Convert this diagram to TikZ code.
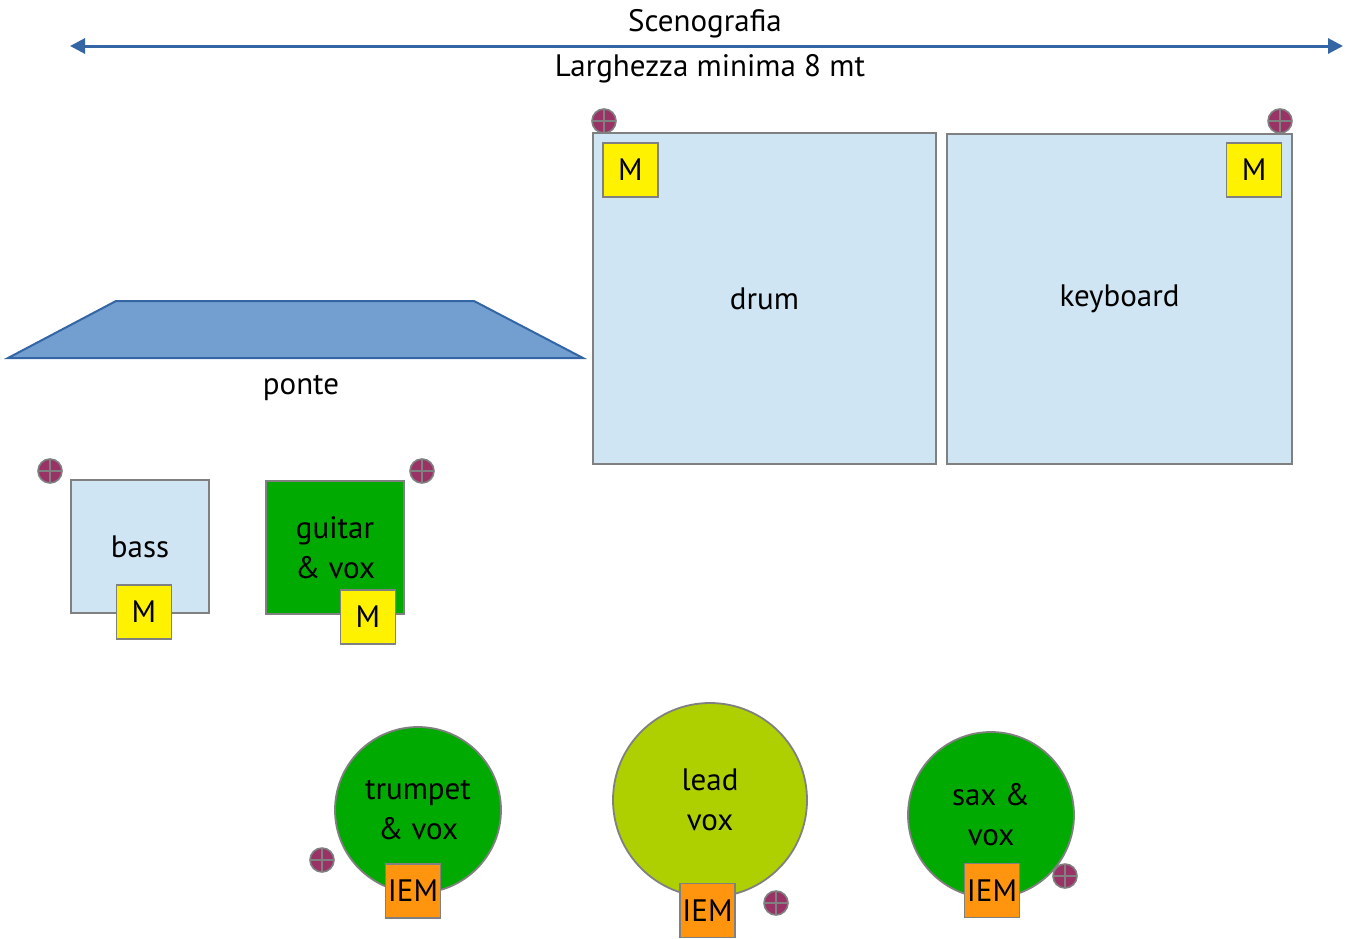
\documentclass[tikz,border=0pt]{standalone}
\usepackage{fontspec}
\setmainfont{PT Sans}
\usetikzlibrary{arrows.meta}

\definecolor{riser}{RGB}{207,229,243}
\definecolor{edge}{RGB}{128,128,128}
\definecolor{band}{RGB}{0,170,0}
\definecolor{lead}{RGB}{175,208,0}
\definecolor{iem}{RGB}{255,149,14}
\definecolor{ponte}{RGB}{114,159,207}
\definecolor{steel}{RGB}{52,101,164}
\definecolor{plug}{RGB}{153,51,102}

\begin{document}
\begin{tikzpicture}[x=0.5pt,y=-0.5pt,
  every node/.style={font=\fontsize{15.5}{20}\selectfont,align=center,inner sep=0pt},
  pedana/.style={draw=edge,line width=0.9pt,fill=riser,rectangle},
  mon/.style={draw=edge,line width=0.9pt,fill=yellow,rectangle,minimum width=27.5pt,minimum height=27pt},
  ear/.style={draw=edge,line width=0.9pt,fill=iem,rectangle,minimum width=27.5pt,minimum height=27pt},
  player/.style={draw=edge,line width=0.9pt,circle,minimum size=83pt},
  spot/.style={draw=edge,line width=0.8pt,fill=plug,circle,minimum size=12pt,
    path picture={\draw[edge,line width=0.7pt]
      (path picture bounding box.north) -- (path picture bounding box.south)
      (path picture bounding box.west) -- (path picture bounding box.east);}}]
  \useasboundingbox (0,0) rectangle (1348,938);

  % scenografia
  \coordinate (sl) at (70,46);
  \coordinate (sr) at (1343,46);
  \draw[steel,line width=1.5pt,{Triangle[length=7.5pt,width=7.5pt]}-{Triangle[length=7.5pt,width=7.5pt]}] (sl) -- (sr);
  \node (sceno) at (705,24) {Scenografia};
  \node (largh) at (710,69) {Larghezza minima 8 mt};

  % ponte
  \draw[steel,line width=1pt,fill=ponte] (8,358) -- (116,301) -- (474,301) -- (583,358) -- cycle;
  \node (ponte) at (301,388) {ponte};

  % pedane
  \node[pedana,minimum width=171.5pt,minimum height=165.5pt] (drum) at (764.5,298.5) {drum};
  \node[pedana,minimum width=172.5pt,minimum height=165pt] (keys) at (1119.5,299) {keyboard};
  \node[mon] (mdrum) at (630.5,170) {M};
  \node[mon] (mkeys) at (1254,170) {M};

  \node[pedana,minimum width=69pt,minimum height=66.5pt] (bass) at (140,546.5) {bass};
  \node[pedana,fill=band,minimum width=69pt,minimum height=66.5pt] (guitar) at (335,547.5) {guitar\\\& vox};
  \node[mon] (mbass) at (144,612) {M};
  \node[mon] (mguitar) at (368,617) {M};

  % fronte
  \node[player,fill=band] (trumpet) at (418,810) {trumpet\\\& vox};
  \node[player,fill=lead,minimum size=97pt] (leadvox) at (710,800) {lead\\vox};
  \node[player,fill=band] (sax) at (991,815) {sax \&\\vox};
  \node[ear] (etrumpet) at (413,891) {IEM};
  \node[ear] (elead) at (707.5,910.5) {IEM};
  \node[ear] (esax) at (992,890.5) {IEM};

  % prese
  \node[spot] (p1) at (604,121) {};
  \node[spot] (p2) at (1280,121) {};
  \node[spot] (p3) at (50,471) {};
  \node[spot] (p4) at (422,471) {};
  \node[spot] (p5) at (322,860) {};
  \node[spot] (p6) at (776,903) {};
  \node[spot] (p7) at (1065,876) {};
\end{tikzpicture}
\end{document}
